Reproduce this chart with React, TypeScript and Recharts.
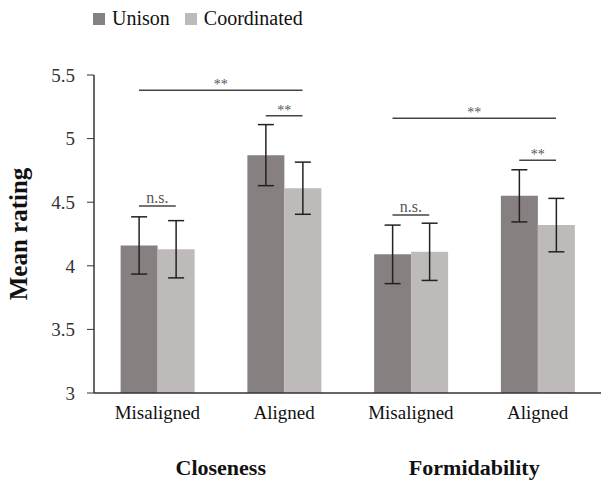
import React from 'react';
import { BarChart, Bar, XAxis, YAxis, ErrorBar, Legend, ReferenceLine, Label } from 'recharts';

const categories = ['Misaligned', 'Aligned', 'Misaligned', 'Aligned'];
const unison = [4.16, 4.87, 4.09, 4.55];
const coordinated = [4.13, 4.61, 4.11, 4.32];
const unisonErr = [0.225, 0.24, 0.23, 0.205];
const coordinatedErr = [0.225, 0.205, 0.225, 0.21];
const yTicks = [3, 3.5, 4, 4.5, 5, 5.5];
const groupTitles = ['Closeness', 'Formidability'];
const seriesNames = ['Unison', 'Coordinated'];
const seriesColors = ['#878080', '#bfbaba'];

// significance brackets: from (category index, series) to (category index, series) at a rating level
const brackets = [
  { from: 0, fromSeries: 0, to: 1, toSeries: 1, level: 5.38, text: '**' },
  { from: 1, fromSeries: 0, to: 1, toSeries: 1, level: 5.18, text: '**' },
  { from: 0, fromSeries: 0, to: 0, toSeries: 1, level: 4.47, text: 'n.s.' },
  { from: 2, fromSeries: 0, to: 3, toSeries: 1, level: 5.16, text: '**' },
  { from: 3, fromSeries: 0, to: 3, toSeries: 1, level: 4.83, text: '**' },
  { from: 2, fromSeries: 0, to: 2, toSeries: 1, level: 4.40, text: 'n.s.' },
];

const data = categories.map((c, i) => ({
  name: c,
  pos: i + 0.5,
  Unison: unison[i],
  Coordinated: coordinated[i],
  uErr: unisonErr[i],
  cErr: coordinatedErr[i],
}));

const CHART_W = 601;
const Y_AXIS_W = 94;
const HALF_BAND = (CHART_W - Y_AXIS_W) / categories.length / 2;
const GAP = 0.21;
const HALF = (1 - 2 * GAP) / 4;
const barX = (cat: number, series: number) => cat + 0.5 + (series === 0 ? -HALF : HALF);

const FONT = '"Liberation Serif", "Times New Roman", serif';

const LegendContent = () => (
  <div style={{ display: 'flex', alignItems: 'center', fontFamily: FONT, fontSize: 20, color: '#111' }}>
    {seriesNames.map((n, i) => (
      <div key={n} style={{ display: 'flex', alignItems: 'center', marginRight: 15 }}>
        <span style={{ display: 'inline-block', width: 12, height: 12, background: seriesColors[i], marginRight: 7 }} />
        <span>{n}</span>
      </div>
    ))}
  </div>
);

export default function App() {
  return (
    <div style={{ position: 'absolute', left: 0, top: 0, background: '#fff' }}>
      <BarChart
        width={CHART_W}
        height={484}
        data={data}
        margin={{ top: 75, right: 0, left: 0, bottom: 6 }}
        barCategoryGap="21%"
        barGap={0}
        style={{ fontFamily: FONT }}
      >
        <Legend
          verticalAlign="middle"
          align="center"
          layout="horizontal"
          content={<LegendContent />}
          wrapperStyle={{ top: 7, left: 93, width: 'auto' }}
        />
        <XAxis
          dataKey="name"
          xAxisId="cat"
          height={30}
          tickLine={false}
          axisLine={{ stroke: '#333', strokeWidth: 1.5 }}
          tick={{ fontFamily: FONT, fontSize: 19, fill: '#111' }}
          tickMargin={7}
          interval={0}
        />
        <XAxis
          xAxisId="num"
          dataKey="pos"
          type="number"
          domain={['dataMin', 'dataMax']}
          padding={{ left: HALF_BAND, right: HALF_BAND }}
          ticks={[1, 3]}
          height={55}
          axisLine={false}
          tickLine={false}
          tickFormatter={(v: number) => groupTitles[(v - 1) / 2]}
          tick={{ fontFamily: FONT, fontSize: 22, fontWeight: 'bold', fill: '#111' }}
          tickMargin={30}
        />
        <YAxis
          width={Y_AXIS_W}
          domain={[3, 5.5]}
          ticks={yTicks}
          tickSize={7}
          tickLine={{ stroke: '#333' }}
          axisLine={{ stroke: '#333', strokeWidth: 1.5 }}
          tick={{ fontFamily: FONT, fontSize: 19, fill: '#333' }}
          tickMargin={12}
          allowDataOverflow
        >
          <Label
            value="Mean rating"
            angle={-90}
            position="insideLeft"
            offset={18}
            fill="#111"
            fontFamily={FONT}
            fontSize={25}
            fontWeight="bold"
            style={{ textAnchor: 'middle' }}
          />
        </YAxis>
        <Bar dataKey="Unison" xAxisId="cat" fill={seriesColors[0]} isAnimationActive={false}>
          <ErrorBar dataKey="uErr" width={8} stroke="#222" strokeWidth={1.5} />
        </Bar>
        <Bar dataKey="Coordinated" xAxisId="cat" fill={seriesColors[1]} isAnimationActive={false}>
          <ErrorBar dataKey="cErr" width={8} stroke="#222" strokeWidth={1.5} />
        </Bar>
        {brackets.map((b, i) => (
          <ReferenceLine
            key={i}
            xAxisId="num"
            segment={[
              { x: barX(b.from, b.fromSeries), y: b.level },
              { x: barX(b.to, b.toSeries), y: b.level },
            ]}
            stroke="#444"
            strokeWidth={1.5}
            ifOverflow="visible"
            label={{
              value: b.text,
              position: 'top',
              offset: b.text === '**' ? 1 : 3,
              fill: '#555',
              fontFamily: FONT,
              fontSize: b.text === '**' ? 14 : 16,
            }}
          />
        ))}
      </BarChart>
    </div>
  );
}
